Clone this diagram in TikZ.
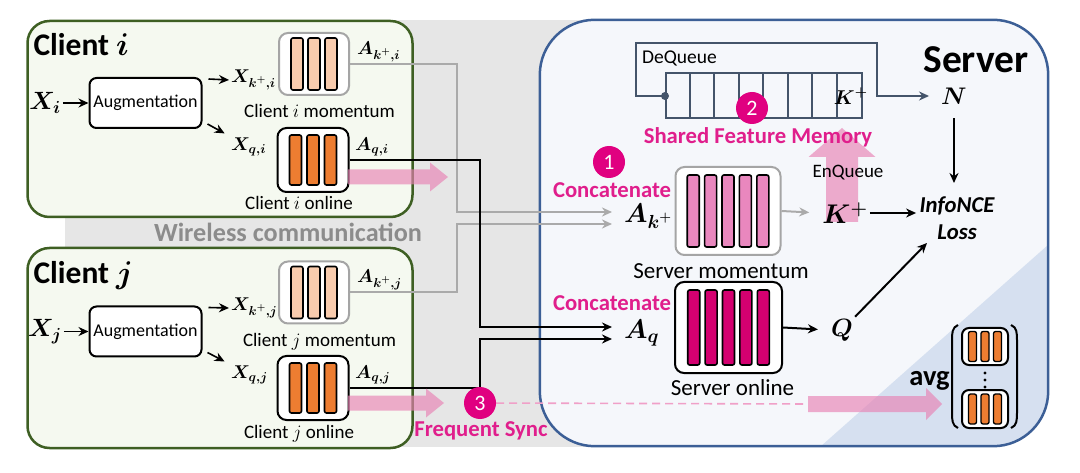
\RequirePackage{fix-cm}
\documentclass[tikz,border=0pt]{standalone}
\usepackage{fontspec}
\setmainfont{Carlito}
\usepackage{bm}
\definecolor{bgGray}{RGB}{230,230,230}
\definecolor{clientFill}{RGB}{245,249,240}
\definecolor{clientGreen}{RGB}{62,95,35}
\definecolor{serverFill}{RGB}{245,247,251}
\definecolor{serverLine}{RGB}{60,95,150}
\definecolor{serverTri}{RGB}{214,224,240}
\definecolor{linkGray}{RGB}{170,170,170}
\definecolor{boxGray}{RGB}{165,165,165}
\definecolor{cMom}{RGB}{248,203,173}
\definecolor{cOnl}{RGB}{237,125,49}
\definecolor{sMom}{RGB}{233,135,190}
\definecolor{sOnl}{RGB}{212,0,112}
\definecolor{accentDot}{RGB}{224,0,128}
\definecolor{accentText}{RGB}{224,30,140}
\definecolor{pinkFat}{RGB}{232,130,180}
\definecolor{dashPink}{RGB}{240,160,200}
\definecolor{wirelessGray}{RGB}{140,140,140}
\definecolor{queueLine}{RGB}{68,84,106}
\usetikzlibrary{arrows.meta, positioning}
\tikzset{pics/fatarrow/.style n args={4}{code={
  \fill[pinkfat] (0,-#2) -- ({#1-#4},-#2) -- ({#1-#4},-#3) -- (#1,0) -- ({#1-#4},#3) -- ({#1-#4},#2) -- (0,#2) -- cycle;}}}

\begin{document}
\begin{tikzpicture}[x=1pt, y=-1pt, >={Stealth[length=10pt, width=9pt]},
  client/.style={draw=clientGreen, line width=2.5pt, fill=clientFill, rounded corners=22pt, minimum width=385pt, minimum height=196pt},
  augbox/.style={draw, line width=2pt, fill=white, rounded corners=7pt, minimum width=112pt, minimum height=50pt, font=\fontsize{18}{20}\selectfont},
  mombox/.style={draw=boxGray, line width=2pt, fill=white, rounded corners=9pt},
  onlbox/.style={draw=black, line width=2pt, fill=white, rounded corners=9pt},
  bar/.style={draw=black, line width=1.6pt, rounded corners=2pt},
  lbl/.style={font=\fontsize{19}{21}\selectfont},
  lblmid/.style={font=\fontsize{23}{26}\selectfont},
  ttl/.style={font=\bfseries\fontsize{31.5}{34}\selectfont},
  cvar/.style={font=\fontsize{18.5}{21}\selectfont, inner sep=2pt},
  svar/.style={font=\fontsize{27}{30}\selectfont, inner sep=2pt},
  accenttext/.style={text=accentText, font=\bfseries\fontsize{22.7}{25}\selectfont},
  numdot/.style={circle, fill=accentDot, text=white, minimum size=32pt, inner sep=0pt, font=\fontsize{22}{24}\selectfont},
  graylink/.style={draw=linkGray, line width=2pt, ->},
  blacklink/.style={draw=black, line width=2pt, ->},
  qline/.style={draw=queueLine, line width=2pt},
  pinkfat/.style={fill=pinkFat, fill opacity=0.65}]
\useasboundingbox (0,0) rectangle (1080,473);
\fill[bgGray] (65,20) rectangle (640,447);

\node[fill=serverFill, rounded corners=55pt, minimum width=508pt, minimum height=426pt] (server) at (794,233) {};
\begin{scope}
  \clip[rounded corners=55pt] (server.north west) rectangle (server.south east);
  \fill[serverTri] (820,447) -- (1048,245) -- (1048,447) -- cycle;
\end{scope}
\draw[serverLine, line width=2.5pt, rounded corners=55pt] (server.north west) rectangle (server.south east);
\node[font=\bfseries\fontsize{39.5}{42}\selectfont] (stitle) at (976,60) {Server};

\node[client] (clienti) at (220,119) {};
\node[client, minimum height=200pt] (clientj) at (220,348) {};
\node[ttl, anchor=base west] (ti) at (30,56) {Client $\bm{i}$};
\node[ttl, anchor=base west] (tj) at (30,284) {Client $\bm{j}$};
\node[font=\bfseries\fontsize{26.2}{28}\selectfont, text=wirelessGray] (wl) at (288,232) {Wireless communication};

\node[augbox] (augi) at (145.5,103) {Augmentation};
\node[augbox] (augj) at (145.5,331.5) {Augmentation};
\node[font=\fontsize{25}{27}\selectfont, inner sep=2pt] (xi) at (45,103) {$\bm{X_{i}}$};
\node[font=\fontsize{25}{27}\selectfont, inner sep=2pt] (xj) at (45,331.5) {$\bm{X_{j}}$};
\node[cvar, anchor=west] (xki) at (229,80) {$\bm{X_{k^{+},i}}$};
\node[cvar, anchor=west] (xqi) at (229,147) {$\bm{X_{q,i}}$};
\node[cvar, anchor=west] (xkj) at (229,308) {$\bm{X_{k^{+},j}}$};
\node[cvar, anchor=west] (xqj) at (229,375) {$\bm{X_{q,j}}$};

\node[mombox, minimum width=70pt, minimum height=62pt] (mi) at (314,64) {};
\node[onlbox, minimum width=71pt, minimum height=64pt] (oi) at (313,160) {};
\node[mombox, minimum width=70pt, minimum height=62pt] (mj) at (314,292.5) {};
\node[onlbox, minimum width=71pt, minimum height=64pt] (oj) at (313,388) {};
\foreach \k in {-1,0,1} {
  \draw[bar, fill=cMom] ([xshift=\k*17pt]mi.center) ++(-6,-26) rectangle ++(12,52);
  \draw[bar, fill=cMom] ([xshift=\k*17pt]mj.center) ++(-6,-26) rectangle ++(12,52);
  \draw[bar, fill=cOnl] ([xshift=\k*17.5pt]oi.center) ++(-6,-25) rectangle ++(12,50);
  \draw[bar, fill=cOnl] ([xshift=\k*17.5pt]oj.center) ++(-6,-25) rectangle ++(12,50);
}
\node[cvar, anchor=west] (aki) at (355,52) {$\bm{A_{k^{+},i}}$};
\node[cvar, anchor=west] (aqi) at (353,147) {$\bm{A_{q,i}}$};
\node[cvar, anchor=west] (akj) at (355,280) {$\bm{A_{k^{+},j}}$};
\node[cvar, anchor=west] (aqj) at (353,375) {$\bm{A_{q,j}}$};
\node[lbl, anchor=base] (lmi) at (319.5,118) {Client $i$ momentum};
\node[lbl, anchor=base] (loi) at (299,210) {Client $i$ online};
\node[lbl, anchor=base] (lmj) at (319.5,346) {Client $j$ momentum};
\node[lbl, anchor=base] (loj) at (299,438) {Client $j$ online};

\draw[->, line width=1.6pt] (xi) -- (augi);
\draw[->, line width=1.6pt] (xj) -- (augj);
\draw[->, line width=1.6pt] ([xshift=6pt, yshift=-2pt]augi.north east) -- (xki.west);
\draw[->, line width=1.6pt, shorten >=5pt] ([xshift=5pt, yshift=5pt]augi.south east) -- (xqi.north west);
\draw[->, line width=1.6pt] ([xshift=6pt, yshift=-2pt]augj.north east) -- (xkj.west);
\draw[->, line width=1.6pt, shorten >=5pt] ([xshift=5pt, yshift=5pt]augj.south east) -- (xqj.north west);

\node[svar, anchor=west, inner xsep=12pt] (ak) at (612,216) {$\bm{A_{k^{+}}}$};
\node[svar, anchor=west, inner xsep=12pt] (aq) at (612,333) {$\bm{A_{q}}$};
\draw[graylink] (mi.east) -- ++(107,0) |- ([yshift=4pt]ak.west);
\draw[graylink] (mj.east) -- ++(107,0) |- ([yshift=-8pt]ak.west);
\draw[blacklink] (oi.east) -- ++(130,0) |- ([yshift=6pt]aq.west);
\draw[blacklink] (oj.east) -- ++(130,0) |- ([yshift=-6pt]aq.west);

\pic at (348,177) {fatarrow={100}{7.5}{14.5}{18}};
\pic at (348,403) {fatarrow={96}{7.5}{14.5}{18}};
\node[numdot] (c3) at (480,403) {3};
\node[accenttext] (fsync) at (481,431) {Frequent Sync};
\coordinate (syncend) at (808,404);
\draw[dashPink, line width=1.6pt, dash pattern=on 8pt off 5pt] (c3) -- (syncend);
\pic at (syncend) {fatarrow={134}{8}{16}{16}};

\node[qline, minimum width=196pt, minimum height=45pt, inner sep=0pt] (mem) at (764,96) {};
\foreach \k in {1,...,7}
  \draw[qline] ([xshift=\k*24.5pt]mem.north west) -- ([xshift=\k*24.5pt]mem.south west);
\node[font=\fontsize{20}{22}\selectfont, inner sep=1pt] (kq) at ([xshift=-12.25pt]mem.east) {$\bm{K^{+}}$};
\node[circle, fill=queueLine, inner sep=0pt, minimum size=8pt] (deq) at (mem.west) {};
\node[svar, font=\fontsize{24}{26}\selectfont] (n) at (954,96) {$\bm{N}$};
\draw[qline, ->, shorten >=10pt] (deq.center) -| (636,43) -| (877,96) -- (n.west);
\node[font=\fontsize{19.5}{22}\selectfont] (dql) at (679.5,58) {DeQueue};

\pic[rotate=90] at (842,222) {fatarrow={94}{16}{33.5}{29}};
\node[numdot] (c2) at (752,108) {2};
\node[accenttext] (sfm) at (758,137) {Shared Feature Memory};
\node[font=\fontsize{19}{22}\selectfont] (enq) at (848,173) {EnQueue};

\node[numdot] (c1) at (609,162) {1};
\node[accenttext] (cat1) at (612,190) {Concatenate};
\node[accenttext] (cat2) at (612,303) {Concatenate};

\node[mombox, minimum width=105pt, minimum height=88pt] (sm) at (728,211) {};
\node[onlbox, minimum width=107pt, minimum height=91pt] (so) at (728.5,327.5) {};
\foreach \k in {-2,...,2} {
  \draw[bar, fill=sMom] ([xshift=\k*17.4pt]sm.center) ++(-6,-36) rectangle ++(12,72);
  \draw[bar, fill=sOnl] ([xshift=\k*17.4pt]so.center) ++(-6,-37.5) rectangle ++(12,75);
}
\node[lblmid, below=4pt of sm, xshift=-7pt] (lsm) {Server momentum};
\node[lblmid, below=2pt of so, xshift=4pt] (lso) {Server online};

\node[svar] (kplus) at (845,213) {$\bm{K^{+}}$};
\node[svar, font=\fontsize{25}{27}\selectfont] (q) at (842,330) {$\bm{Q}$};
\node[font=\bfseries\itshape\fontsize{22.7}{27}\selectfont, align=center] (loss) at (957,218) {InfoNCE\\Loss};
\draw[graylink, shorten >=11pt] (sm.east) -- (kplus.west);
\draw[blacklink, shorten >=11pt] (so.east) -- (q.west);
\draw[->, line width=2pt] ([yshift=-12pt]n.south) -- ([yshift=10pt]n.south |- loss.north);
\draw[->, line width=2pt] (kplus.east) -- (kplus.east -| loss.west);
\draw[->, line width=2pt] (q.north east) -- ([xshift=-30pt]loss.south);

\node[font=\bfseries\fontsize{28.5}{30}\selectfont] (avg) at (929.5,381) {avg};
\node[onlbox, minimum width=46pt, minimum height=37pt, rounded corners=7pt] (av1) at (985,346.5) {};
\node[onlbox, minimum width=46pt, minimum height=38pt, rounded corners=7pt] (av2) at (985,409) {};
\foreach \k in {-1,0,1} {
  \draw[bar, line width=1.3pt, fill=cOnl] ([xshift=\k*12.5pt]av1.center) ++(-4,-15) rectangle ++(8,30);
  \draw[bar, line width=1.3pt, fill=cOnl] ([xshift=\k*12.5pt]av2.center) ++(-4,-15) rectangle ++(8,30);
}
\foreach \d in {373,380,387}
  \fill (985,\d) circle (1.7pt);
\draw[line width=2pt] (958,325) to[out=200, in=90] (952,340) -- (952,413) to[out=-90, in=160] (958,428);
\draw[line width=2pt] (1011,325) to[out=-20, in=90] (1017,340) -- (1017,413) to[out=-90, in=20] (1011,428);
\end{tikzpicture}
\end{document}
